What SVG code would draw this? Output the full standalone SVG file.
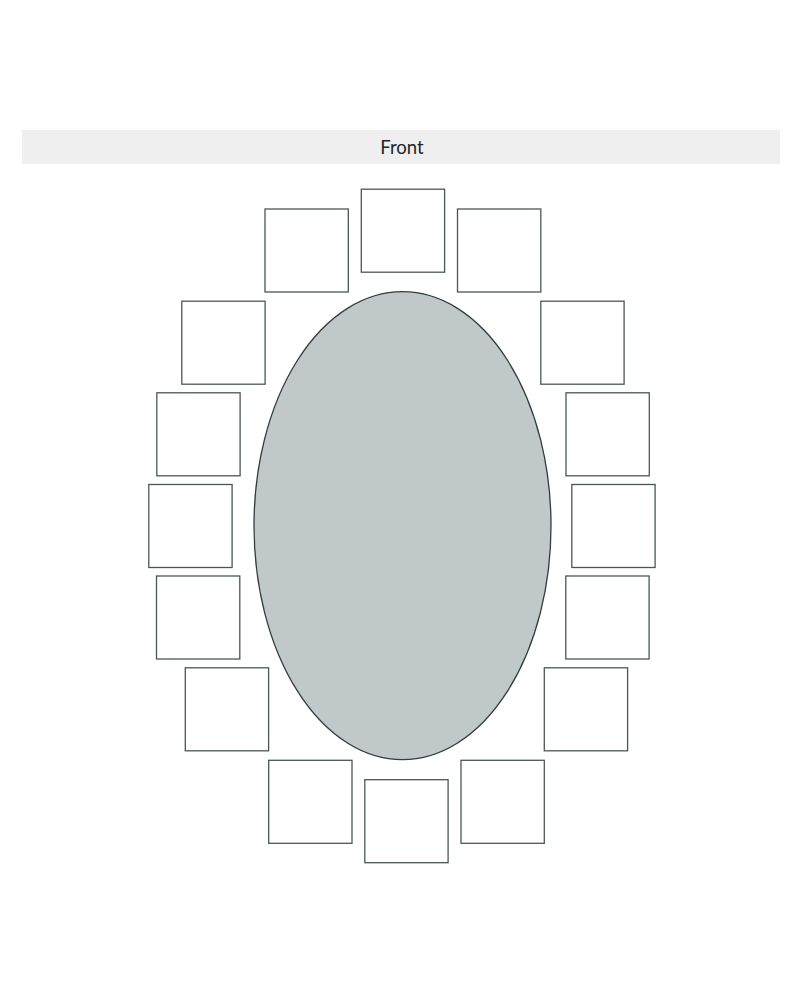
<svg xmlns="http://www.w3.org/2000/svg" width="800" height="1000" viewBox="0 0 800 1000">
<style>
.seat{fill:#ffffff;stroke:#4a5656;stroke-width:1.3}
.table{fill:#c0c8ca;stroke:#2f3d3d;stroke-width:1.3}
.label{font-family:Lato,"Liberation Sans",sans-serif;font-size:18.5px;fill:#1e2626}
</style>
<rect width="800" height="1000" fill="#ffffff"/>
<g id="front">
<rect x="22" y="130" width="758" height="34" fill="#efefef"/>
<text class="label" x="402" y="154" text-anchor="middle">Front</text>
</g>
<g id="table"><ellipse class="table" cx="402.5" cy="525.7" rx="148.5" ry="234"/></g>
<g id="seat-top"><rect class="seat" x="361.3" y="189.2" width="83.3" height="83"/></g>
<g id="seat-top-left"><rect class="seat" x="265" y="209" width="83.3" height="83"/></g>
<g id="seat-top-right"><rect class="seat" x="457.5" y="209" width="83.3" height="83"/></g>
<g id="seat-l2"><rect class="seat" x="181.8" y="301.2" width="83.3" height="83"/></g>
<g id="seat-r2"><rect class="seat" x="540.8" y="301.2" width="83.3" height="83"/></g>
<g id="seat-l3"><rect class="seat" x="156.8" y="392.8" width="83.3" height="83"/></g>
<g id="seat-r3"><rect class="seat" x="566" y="392.8" width="83.3" height="83"/></g>
<g id="seat-l4"><rect class="seat" x="148.8" y="484.5" width="83.3" height="83"/></g>
<g id="seat-r4"><rect class="seat" x="571.8" y="484.5" width="83.3" height="83"/></g>
<g id="seat-l5"><rect class="seat" x="156.5" y="576" width="83.3" height="83"/></g>
<g id="seat-r5"><rect class="seat" x="565.8" y="576" width="83.3" height="83"/></g>
<g id="seat-l6"><rect class="seat" x="185.3" y="667.8" width="83.3" height="83"/></g>
<g id="seat-r6"><rect class="seat" x="544.3" y="667.8" width="83.3" height="83"/></g>
<g id="seat-bottom-left"><rect class="seat" x="268.7" y="760.3" width="83.3" height="83"/></g>
<g id="seat-bottom"><rect class="seat" x="364.8" y="779.7" width="83.3" height="83"/></g>
<g id="seat-bottom-right"><rect class="seat" x="461" y="760.3" width="83.3" height="83"/></g>
<g id="connectors"></g>
</svg>
